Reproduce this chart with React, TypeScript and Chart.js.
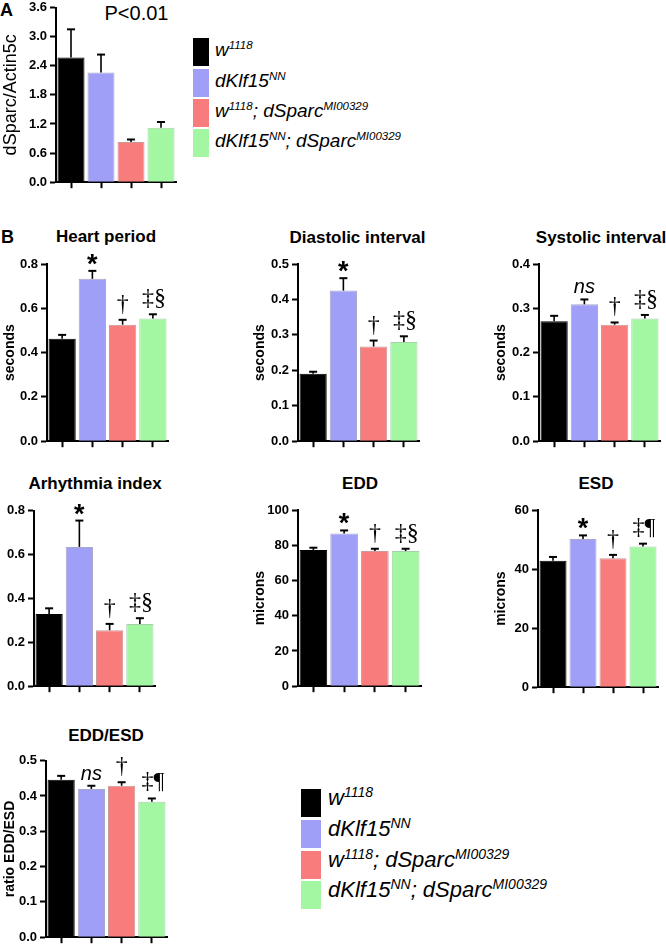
import React, { useEffect, useRef } from 'react';
import { Chart, registerables } from 'chart.js';
Chart.register(...registerables);

const SANS = "'Liberation Sans', Arial, Helvetica, sans-serif";
const SERIF = "'Liberation Serif', 'Times New Roman', serif";

// ---- categories / legend ----
const genotypes = ['w^{1118}', 'dKlf15^{NN}', 'w^{1118}; dSparc^{MI00329}', 'dKlf15^{NN}; dSparc^{MI00329}'];
const barFill = ['#000000', '#9f9ff8', '#f87c7c', '#a3f7a3'];
const barEdge = ['#000000', '#a8a8c8', '#c89a9a', '#a8d0a8'];

// ---- panel A: dSparc/Actin5c ----
const sparcMean = [2.57, 2.26, 0.83, 1.12];
const sparcSem = [0.58, 0.37, 0.05, 0.12];
const sparcNotes = ['', '', '', ''];

// ---- panel B ----
const heartPeriodMean = [0.462, 0.733, 0.526, 0.554];
const heartPeriodSem = [0.018, 0.036, 0.022, 0.019];
const heartPeriodNotes = ['', '*', '†', '‡§'];

const diastolicMean = [0.19, 0.425, 0.267, 0.28];
const diastolicSem = [0.006, 0.035, 0.017, 0.016];
const diastolicNotes = ['', '*', '†', '‡§'];

const systolicMean = [0.271, 0.309, 0.263, 0.277];
const systolicSem = [0.012, 0.011, 0.005, 0.008];
const systolicNotes = ['', 'ns', '†', '‡§'];

const arrhythmiaMean = [0.329, 0.635, 0.255, 0.283];
const arrhythmiaSem = [0.026, 0.12, 0.029, 0.027];
const arrhythmiaNotes = ['', '*', '†', '‡§'];

const eddMean = [77.3, 86.6, 76.7, 76.7];
const eddSem = [1.3, 1.8, 1.3, 1.3];
const eddNotes = ['', '*', '†', '‡§'];

const esdMean = [42.8, 50.2, 43.7, 47.6];
const esdSem = [1.3, 1.2, 1.1, 1.0];
const esdNotes = ['', '*', '†', '‡¶'];

const ratioMean = [0.446, 0.42, 0.429, 0.384];
const ratioSem = [0.011, 0.009, 0.01, 0.009];
const ratioNotes = ['', 'ns', '†', '‡¶'];

const plain = (s: string) => s.replace(/\^\{([^}]*)\}/g, '$1');

function parseSup(s: string) {
  const parts: { t: string; sup: boolean }[] = [];
  const re = /\^\{([^}]*)\}/g;
  let last = 0;
  let m: RegExpExecArray | null;
  while ((m = re.exec(s))) {
    if (m.index > last) parts.push({ t: s.slice(last, m.index), sup: false });
    parts.push({ t: m[1], sup: true });
    last = m.index + m[0].length;
  }
  if (last < s.length) parts.push({ t: s.slice(last), sup: false });
  return parts;
}

type PanelProps = {
  left: number; top: number; width: number; height: number;
  padTop: number; axisW: number;
  yMax: number; yStep: number; decimals: number;
  yTitle?: string; yTitleSize?: number; yTitleBold?: boolean; yTitlePad?: number;
  mean: number[]; sem: number[]; notes: string[];
};

function BarPanel(p: PanelProps) {
  const ref = useRef<HTMLCanvasElement>(null);
  useEffect(() => {
    const errorPlugin = {
      id: 'errorBarsAndNotes',
      afterDatasetsDraw(chart: any) {
        const ctx = chart.ctx as CanvasRenderingContext2D;
        const meta = chart.getDatasetMeta(0);
        const yScale = chart.scales.y;
        ctx.save();
        meta.data.forEach((bar: any, i: number) => {
          const v = p.mean[i];
          const e = p.sem[i];
          const x = bar.x;
          const y0 = yScale.getPixelForValue(v);
          const y1 = yScale.getPixelForValue(v + e);
          ctx.strokeStyle = '#000';
          ctx.lineWidth = 1.6;
          ctx.beginPath();
          ctx.moveTo(x, y0);
          ctx.lineTo(x, y1);
          ctx.stroke();
          ctx.lineWidth = 2;
          ctx.beginPath();
          ctx.moveTo(x - 4, y1);
          ctx.lineTo(x + 4, y1);
          ctx.stroke();
          const note = p.notes[i];
          if (note) {
            if (note === 'ns') ctx.font = `italic 20px ${SANS}`;
            else if (note === '*') ctx.font = `bold 27px ${SANS}`;
            else ctx.font = `24px ${SERIF}`;
            ctx.fillStyle = '#000';
            ctx.textAlign = 'center';
            ctx.textBaseline = 'alphabetic';
            const m = ctx.measureText(note);
            const gap = 6;
            ctx.fillText(note, x + (note.length > 1 && note !== 'ns' ? 1 : 0), y1 - gap - m.actualBoundingBoxDescent);
          }
        });
        ctx.restore();
      },
    };
    const tickFont = { family: SANS, size: 13, weight: 'bold' as const };
    const gridOpts = {
      display: true,
      drawOnChartArea: false,
      drawTicks: true,
      tickLength: 6,
      tickWidth: 2,
      tickColor: '#000',
      offset: false,
    };
    const chart = new Chart(ref.current!, {
      type: 'bar',
      data: {
        labels: genotypes.map(plain),
        datasets: [
          {
            data: p.mean,
            backgroundColor: barFill,
            borderColor: barEdge,
            borderWidth: 1,
            barPercentage: 0.9,
            categoryPercentage: 1,
          },
        ],
      },
      options: {
        responsive: false,
        maintainAspectRatio: false,
        animation: false,
        devicePixelRatio: 1,
        layout: { padding: { top: p.padTop, right: 2, left: 0, bottom: 0 } },
        plugins: {
          legend: { display: false },
          tooltip: { enabled: false },
          title: { display: false },
        },
        scales: {
          x: {
            type: 'category',
            offset: true,
            grid: gridOpts,
            border: { display: true, color: '#000', width: 2 },
            ticks: { display: false },
            afterFit: (s: any) => {
              s.height = 8;
            },
          },
          y: {
            min: 0,
            max: p.yMax,
            grid: gridOpts,
            border: { display: true, color: '#000', width: 2 },
            ticks: {
              stepSize: p.yStep,
              autoSkip: false,
              color: '#000',
              padding: 3,
              font: tickFont,
              callback: (v: any) => Number(v).toFixed(p.decimals),
            },
            title: {
              display: !!p.yTitle,
              text: p.yTitle || '',
              color: '#000',
              font: { family: SANS, size: p.yTitleSize || 14, weight: p.yTitleBold === false ? 'normal' : 'bold' },
              padding: { top: p.yTitlePad ?? 2, bottom: 0 },
            },
            afterFit: (s: any) => {
              s.width = p.axisW;
            },
          },
        },
      } as any,
      plugins: [errorPlugin],
    });
    return () => chart.destroy();
  }, []);
  return (
    <canvas
      ref={ref}
      width={p.width}
      height={p.height}
      style={{ position: 'absolute', left: p.left, top: p.top, width: p.width, height: p.height }}
    />
  );
}

function Txt(props: {
  x: number; baseline: number; size: number; bold?: boolean; italic?: boolean;
  center?: boolean; children: React.ReactNode;
}) {
  const { x, baseline, size, bold, italic, center, children } = props;
  const top = baseline - 0.8465 * size;
  return (
    <div
      style={{
        position: 'absolute',
        left: center ? x - 200 : x,
        width: center ? 400 : undefined,
        textAlign: center ? 'center' : 'left',
        top,
        fontFamily: SANS,
        fontSize: size,
        lineHeight: `${size}px`,
        fontWeight: bold ? 'bold' : 'normal',
        fontStyle: italic ? 'italic' : 'normal',
        whiteSpace: 'nowrap',
        color: '#000',
      }}
    >
      {children}
    </div>
  );
}

function Legend(props: {
  sqX: number; sqW: number; sqH: number; tops: number[]; textX: number;
  baseOff: number; size: number; supSize: number; supRaise: number;
}) {
  const { sqX, sqW, sqH, tops, textX, baseOff, size, supSize, supRaise } = props;
  return (
    <>
      {genotypes.map((g, i) => (
        <React.Fragment key={g}>
          <div
            style={{
              position: 'absolute',
              left: sqX,
              top: tops[i],
              width: sqW,
              height: sqH,
              background: barFill[i],
            }}
          />
          <Txt x={textX} baseline={tops[i] + baseOff} size={size} italic>
            {parseSup(g).map((part, j) =>
              part.sup ? (
                <span key={j} style={{ fontSize: supSize, position: 'relative', top: -supRaise, lineHeight: 0 }}>
                  {part.t}
                </span>
              ) : (
                <span key={j}>{part.t}</span>
              )
            )}
          </Txt>
        </React.Fragment>
      ))}
    </>
  );
}

export default function App() {
  return (
    <div
      style={{
        position: 'absolute',
        left: 0,
        top: 0,
        width: 666,
        height: 946,
        overflow: 'hidden',
        background: '#fff',
      }}
    >
      {/* Panel A */}
      <Txt x={0} baseline={16.7} size={18} bold>A</Txt>
      <Txt x={136.5} baseline={20} size={20} center>P&lt;0.01</Txt>
      <BarPanel left={0} top={-5} width={178} height={198} padTop={12.5} axisW={56}
        yMax={3.6} yStep={0.6} decimals={1}
        yTitle="dSparc/Actin5c" yTitleSize={18} yTitleBold={false} yTitlePad={0}
        mean={sparcMean} sem={sparcSem} notes={sparcNotes} />
      <Legend sqX={193} sqW={16} sqH={28} tops={[38, 69, 99, 129]} textX={215}
        baseOff={18} size={19} supSize={11.5} supRaise={7} />

      {/* Panel B */}
      <Txt x={1} baseline={243.3} size={18} bold>B</Txt>

      <Txt x={106} baseline={242.7} size={17} bold center>Heart period</Txt>
      <BarPanel left={0} top={248} width={170} height={204} padTop={16} axisW={47}
        yMax={0.8} yStep={0.2} decimals={1} yTitle="seconds"
        mean={heartPeriodMean} sem={heartPeriodSem} notes={heartPeriodNotes} />

      <Txt x={357.5} baseline={243.3} size={17} bold center>Diastolic interval</Txt>
      <BarPanel left={250} top={248} width={171} height={204} padTop={16} axisW={48}
        yMax={0.5} yStep={0.1} decimals={1} yTitle="seconds"
        mean={diastolicMean} sem={diastolicSem} notes={diastolicNotes} />

      <Txt x={601} baseline={243} size={17} bold center>Systolic interval</Txt>
      <BarPanel left={491} top={248} width={171} height={204} padTop={16} axisW={48}
        yMax={0.4} yStep={0.1} decimals={1} yTitle="seconds"
        mean={systolicMean} sem={systolicSem} notes={systolicNotes} />

      <Txt x={95} baseline={489.3} size={17} bold center>Arhythmia index</Txt>
      <BarPanel left={0} top={494} width={157} height={203} padTop={16.7} axisW={34}
        yMax={0.8} yStep={0.2} decimals={1}
        mean={arrhythmiaMean} sem={arrhythmiaSem} notes={arrhythmiaNotes} />

      <Txt x={360} baseline={489.3} size={17} bold center>EDD</Txt>
      <BarPanel left={250} top={494} width={173} height={203} padTop={16} axisW={48}
        yMax={100} yStep={20} decimals={0} yTitle="microns"
        mean={eddMean} sem={eddSem} notes={eddNotes} />

      <Txt x={596} baseline={489.3} size={17} bold center>ESD</Txt>
      <BarPanel left={491} top={494} width={169} height={204} padTop={16} axisW={47}
        yMax={60} yStep={20} decimals={0} yTitle="microns"
        mean={esdMean} sem={esdSem} notes={esdNotes} />

      <Txt x={106} baseline={741} size={17} bold center>EDD/ESD</Txt>
      <BarPanel left={0} top={745} width={169} height={203} padTop={15.7} axisW={46}
        yMax={0.5} yStep={0.1} decimals={1} yTitle="ratio EDD/ESD"
        mean={ratioMean} sem={ratioSem} notes={ratioNotes} />

      <Legend sqX={301} sqW={20} sqH={28} tops={[789, 820, 851, 881]} textX={328}
        baseOff={17} size={22} supSize={14} supRaise={8} />
    </div>
  );
}
